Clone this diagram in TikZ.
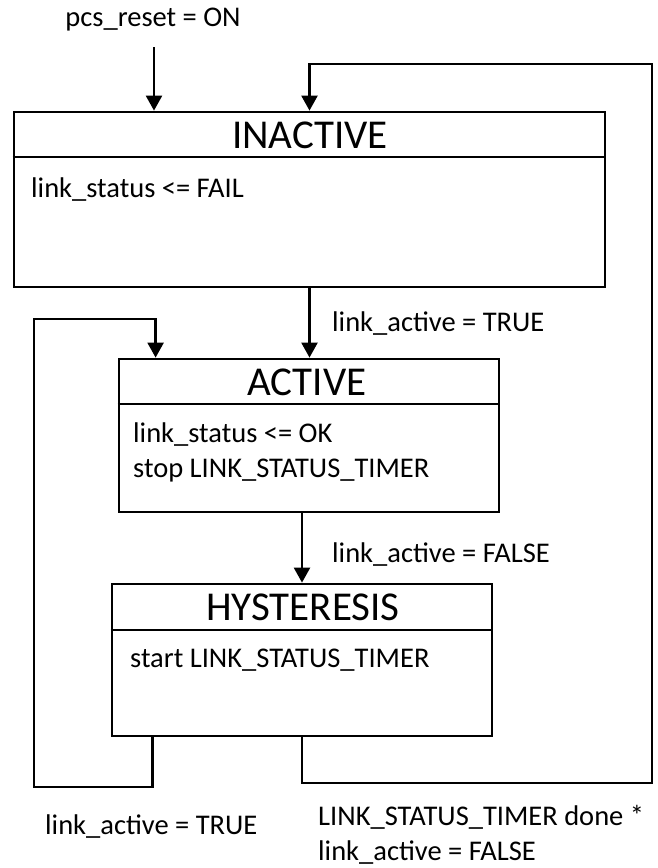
\documentclass[tikz,border=0pt]{standalone}
\usepackage{fontspec}
\setmainfont{Carlito}
\usetikzlibrary{arrows.meta,positioning}

\tikzset{
  state/.style={draw, line width=2.8pt, inner sep=0pt},
  divider/.style={line width=2.8pt},
  title/.style={inner sep=0pt, font=\fontsize{41}{45}\selectfont},
  body/.style={inner sep=0pt, align=left, anchor=west, font=\fontsize{28.5}{35}\selectfont},
  cond/.style={inner sep=0pt, align=left, font=\fontsize{28.5}{35}\selectfont},
  flow/.style={line width=2.4pt, -{Triangle[length=15pt,width=16pt]}}
}

\begin{document}
\begin{tikzpicture}[x=1pt, y=-1pt]
			%%%%% FRAME %%%%%
			\useasboundingbox (0,0) rectangle (657,868);
			
			%%%%% STATES %%%%%
			\node[state, minimum width=591pt, minimum height=175pt] (inactive) at (309.5,199.5) {};
			\node[state, minimum width=380pt, minimum height=153pt] (active) at (309,435.5) {};
			\node[state, minimum width=380pt, minimum height=152pt] (hysteresis) at (302,660) {};
			
			\node[title] (inactive title) at (310,135) {INACTIVE};
			\node[title] (active title) at (307,382) {ACTIVE};
			\node[title] (hysteresis title) at (303,607) {HYSTERESIS};
			
			\coordinate (inactive div) at (0,157);
			\coordinate (active div) at (0,404);
			\coordinate (hysteresis div) at (0,630);
			\draw[divider] (inactive.west |- inactive div) -- (inactive.east |- inactive div);
			\draw[divider] (active.west |- active div) -- (active.east |- active div);
			\draw[divider] (hysteresis.west |- hysteresis div) -- (hysteresis.east |- hysteresis div);
			
			\node[body] (inactive body) at (31,190) {link\_status <= FAIL};
			\node[body] (active body) at (133,452) {link\_status <= OK\\stop LINK\_STATUS\_TIMER};
			\node[body] (hysteresis body) at (130,660) {start LINK\_STATUS\_TIMER};
			
			%%%%% CONDITIONS %%%%%
			\node[cond] (reset) at (153,20) {pcs\_reset = ON};
			\node[cond, anchor=west] (to active) at (332,324) {link\_active = TRUE};
			\node[cond, anchor=west] (to hysteresis) at (332,555) {link\_active = FALSE};
			\node[cond, anchor=west] (back active) at (45,827) {link\_active = TRUE};
			\node[cond, anchor=west] (back inactive) at (318,835) {LINK\_STATUS\_TIMER done *\\link\_active = FALSE};
			
			%%%%% TRANSITIONS %%%%%
			\coordinate (reset end) at (154,47);
			\draw[flow] (reset end) -- (reset end |- inactive.north);
			\draw[flow] (inactive.south) -- (inactive.south |- active.north);
			\draw[flow] (active.south -| hysteresis.north) -- (hysteresis.north);
			
			\coordinate (left low) at (34,787);
			\coordinate (left high) at (34,319);
			\draw[flow] ([xshift=42pt]hysteresis.south west) |- (left low) -- (left high) -| ([xshift=38pt]active.north west);
			
			\coordinate (right low) at (652,783);
			\coordinate (right high) at (652,64);
			\draw[flow] (hysteresis.south) |- (right low) -- (right high) -| (inactive.north);
			
			%%%%% END %%%%%
\end{tikzpicture}
\end{document}
